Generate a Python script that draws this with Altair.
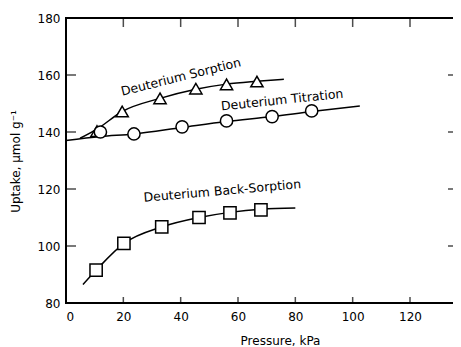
import altair as alt
import pandas as pd

# ---- data ----
sorp_x = [10.8, 19.6, 32.8, 45.3, 56.0, 66.6]
sorp_y = [140.3, 147.2, 151.8, 155.2, 156.7, 157.7]
sorp_curve_x = [4.9, 10.8, 19.6, 32.8, 45.3, 56.0, 66.6, 76.0]
sorp_curve_y = [137.8, 141.0, 147.2, 151.8, 155.0, 156.8, 157.8, 158.5]

titr_x = [12.0, 23.7, 40.5, 56.0, 71.9, 85.7]
titr_y = [140.0, 139.3, 141.8, 143.9, 145.4, 147.4]
titr_curve_x = [0.0, 12.0, 23.7, 40.5, 56.0, 71.9, 85.7, 102.5]
titr_curve_y = [137.0, 138.4, 139.3, 141.6, 143.7, 145.4, 147.2, 149.1]

back_x = [10.5, 20.2, 33.4, 46.4, 57.2, 68.0]
back_y = [91.5, 100.9, 106.7, 110.0, 111.6, 112.7]
back_curve_x = [5.9, 10.5, 20.2, 33.4, 46.4, 57.2, 68.0, 80.0]
back_curve_y = [86.5, 91.5, 100.9, 106.7, 110.0, 111.8, 112.9, 113.3]

label_text = ["Deuterium  Sorption", "Deuterium  Titration", "Deuterium  Back-Sorption"]
label_x = [40.1, 75.4, 54.5]
label_y = [159.3, 151.2, 119.3]
label_angle = [346, 354, 355]

x_ticks = [0, 20, 40, 60, 80, 100, 120]
y_ticks = [80, 100, 120, 140, 160, 180]
x_inner_ticks = [20, 40, 60, 80, 100, 120]
y_inner_ticks = [100, 120, 140, 160]

XDOM = [0, 135]
YDOM = [80, 180]
W, H = 387, 285
FONT = "DejaVu Sans"

# tick lengths (pixels); their centres are moved inward by half a length (in data units)
X_PX = W / (XDOM[1] - XDOM[0])
Y_PX = H / (YDOM[1] - YDOM[0])
TOP_LEN, BOTTOM_LEN, LEFT_LEN, RIGHT_LEN = 9, 6, 10, 5

curves = pd.concat([
    pd.DataFrame({"x": sorp_curve_x, "y": sorp_curve_y, "s": "sorption"}),
    pd.DataFrame({"x": titr_curve_x, "y": titr_curve_y, "s": "titration"}),
    pd.DataFrame({"x": back_curve_x, "y": back_curve_y, "s": "back"}),
])
pts = pd.concat([
    pd.DataFrame({"x": sorp_x, "y": sorp_y, "s": "sorption"}),
    pd.DataFrame({"x": titr_x, "y": titr_y, "s": "titration"}),
    pd.DataFrame({"x": back_x, "y": back_y, "s": "back"}),
])
labels = pd.DataFrame({"t": label_text, "x": label_x, "y": label_y, "a": label_angle})

xs = alt.Scale(domain=XDOM, nice=False, zero=False)
ys = alt.Scale(domain=YDOM, nice=False, zero=False)

x_bottom = alt.Axis(orient="bottom", values=x_ticks, domain=False, grid=False,
                    ticks=False, tickSize=0,
                    labelPadding=8, labelFont=FONT, labelFontSize=12, labelColor="black",
                    title="Pressure, kPa", titleFont=FONT, titleFontSize=12,
                    titleFontWeight="normal", titleColor="black",
                    titleX=214, titleY=37, titleAlign="center", titleBaseline="middle")
y_left = alt.Axis(orient="left", values=y_ticks, domain=False, grid=False,
                  ticks=False, tickSize=0,
                  labelPadding=6, labelFont=FONT, labelFontSize=12, labelColor="black",
                  title="Uptake, \u03bcmol  g\u207b\u00b9", titleFont=FONT, titleFontSize=12,
                  titleFontWeight="normal", titleColor="black", titleAngle=270,
                  titleX=-51, titleY=143, titleAlign="center", titleBaseline="middle")

X = alt.X("x:Q", scale=xs, axis=x_bottom)
Y = alt.Y("y:Q", scale=ys, axis=y_left)

lines = alt.Chart(curves).mark_line(color="black", strokeWidth=1.5, interpolate="monotone").encode(
    x=X, y=Y, detail="s:N")

shape_scale = alt.Scale(domain=["sorption", "titration", "back"],
                        range=["triangle-up", "circle", "square"])
points = alt.Chart(pts).mark_point(filled=True, fill="white", stroke="black",
                                   strokeWidth=1.5, size=150, opacity=1).encode(
    x=X, y=Y, shape=alt.Shape("s:N", scale=shape_scale, legend=None))

texts = alt.layer(*[
    alt.Chart(labels.iloc[[i]]).mark_text(font=FONT, fontSize=12.5, color="black",
                                          angle=label_angle[i], align="center",
                                          baseline="middle").encode(
        x=alt.X("x:Q", scale=xs), y=alt.Y("y:Q", scale=ys), text="t:N")
    for i in range(len(label_text))
])

# frame borders (left, bottom, top) at the domain ends
left_border = alt.Chart(pd.DataFrame({"v": [XDOM[0]]})).mark_rule(
    color="black", strokeWidth=2, strokeCap="square").encode(x=alt.X("v:Q", scale=xs))
hb = alt.Chart(pd.DataFrame({"v": [YDOM[0], YDOM[1]]})).mark_rule(
    color="black", strokeWidth=2, strokeCap="square").encode(y=alt.Y("v:Q", scale=ys))

# inward ticks on the four edges
top_ticks = alt.Chart(pd.DataFrame({"v": x_inner_ticks,
                                    "e": YDOM[1] - TOP_LEN / 2 / Y_PX})).mark_tick(
    color="black", thickness=1.5, size=TOP_LEN, orient="vertical").encode(
    x=alt.X("v:Q", scale=xs), y=alt.Y("e:Q", scale=ys))
bottom_ticks = alt.Chart(pd.DataFrame({"v": x_inner_ticks,
                                       "e": YDOM[0] + BOTTOM_LEN / 2 / Y_PX})).mark_tick(
    color="black", thickness=1.5, size=BOTTOM_LEN, orient="vertical").encode(
    x=alt.X("v:Q", scale=xs), y=alt.Y("e:Q", scale=ys))
left_ticks = alt.Chart(pd.DataFrame({"v": y_inner_ticks,
                                     "e": XDOM[0] + LEFT_LEN / 2 / X_PX})).mark_tick(
    color="black", thickness=1.5, size=LEFT_LEN, orient="horizontal").encode(
    y=alt.Y("v:Q", scale=ys), x=alt.X("e:Q", scale=xs))
right_ticks = alt.Chart(pd.DataFrame({"v": y_inner_ticks,
                                      "e": XDOM[1] - RIGHT_LEN / 2 / X_PX})).mark_tick(
    color="black", thickness=1.5, size=RIGHT_LEN, orient="horizontal").encode(
    y=alt.Y("v:Q", scale=ys), x=alt.X("e:Q", scale=xs))

chart = alt.layer(lines, points, texts, left_border, hb,
                  top_ticks, bottom_ticks, left_ticks, right_ticks).properties(
    width=W, height=H,
    autosize=alt.AutoSizeParams(type="none"),
    padding={"left": 58, "top": 10, "right": 0, "bottom": 44},
).configure_view(strokeWidth=0).configure(background="white")

chart.save("out.html", embed_options={"renderer": "svg", "actions": False})
